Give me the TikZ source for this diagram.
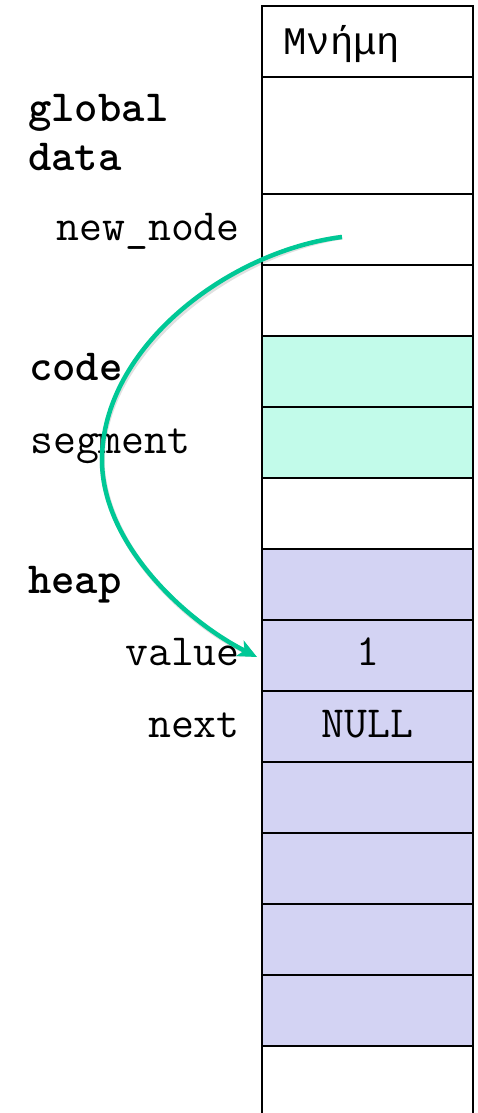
\documentclass[tikz,border=0pt]{standalone}
\usepackage{fontspec}
\newfontfamily\greekmono{Liberation Mono}
\usetikzlibrary{arrows.meta,calc}
\definecolor{mint}{RGB}{194,251,234}
\definecolor{lav}{RGB}{211,211,243}
\definecolor{arrowgreen}{RGB}{0,200,150}
\tikzset{
  cell/.style={draw=black, line width=2pt, minimum width=211pt, inner sep=0pt, outer sep=0pt},
  lbl/.style={inner sep=0pt, font=\ttfamily\fontsize{44.5}{50}\selectfont},
  blbl/.style={inner sep=0pt, font=\ttfamily\bfseries\fontsize{44.5}{50}\selectfont},
  glbl/.style={inner sep=0pt, font=\greekmono\fontsize{39}{45}\selectfont},
  ptr/.style={line width=4.5pt, arrowgreen, -{Stealth[length=19pt,width=17pt,inset=5pt]}},
  ptrshadow/.style={line width=5pt, black, opacity=0.12, -{Stealth[length=19pt,width=17pt,inset=5pt]}}
}
\begin{document}
\begin{tikzpicture}[x=1pt,y=-1pt]
\useasboundingbox (0,0) rectangle (478,1113);
% memory cells
\node[cell, minimum height=71pt] (c0) at (367.5,41.5) {};
\node[cell, minimum height=117pt] (c1) at (367.5,135.5) {};
\node[cell, minimum height=71pt] (c2) at (367.5,229.5) {};
\node[cell, minimum height=71pt] (c3) at (367.5,300.5) {};
\node[cell, fill=mint, minimum height=71pt] (c4) at (367.5,371.5) {};
\node[cell, fill=mint, minimum height=71pt] (c5) at (367.5,442.5) {};
\node[cell, minimum height=71pt] (c6) at (367.5,513.5) {};
\node[cell, fill=lav, minimum height=71pt] (c7) at (367.5,584.5) {};
\node[cell, fill=lav, minimum height=71pt] (c8) at (367.5,655.5) {};
\node[cell, fill=lav, minimum height=71pt] (c9) at (367.5,726.5) {};
\node[cell, fill=lav, minimum height=71pt] (c10) at (367.5,797.5) {};
\node[cell, fill=lav, minimum height=71pt] (c11) at (367.5,868.5) {};
\node[cell, fill=lav, minimum height=71pt] (c12) at (367.5,939.5) {};
\node[cell, fill=lav, minimum height=71pt] (c13) at (367.5,1010.5) {};
\node[cell, minimum height=80pt] (c14) at (367.5,1086) {};
% cell texts
\node[glbl, anchor=base west] (mem) at (283,55) {Μνήμη};
\node[lbl, anchor=base] (one) at (367.5,665) {1};
\node[lbl, anchor=base] (null) at (367.5,737) {NULL};
% side labels
\node[blbl, anchor=base west] (glob) at (28,122) {global};
\node[blbl, anchor=base west] (data) at (28,170) {data};
\node[lbl, anchor=base east] (nn) at (240,240) {new\_node};
\node[blbl, anchor=base west] (code) at (29,380) {code};
\node[lbl, anchor=base west] (seg) at (30,453) {segment};
\node[blbl, anchor=base west] (heap) at (28,593) {heap};
\node[lbl, anchor=base east] (val) at (240,665) {value};
\node[lbl, anchor=base east] (nxt) at (240,737) {next};
% pointer arrow
\coordinate (s) at (342,237);
\coordinate (m) at (102,460);
\coordinate (t) at ($(c8.west)+(-5,1.5)$);
\begin{scope}[shift={(2,3)}]
\draw[ptrshadow] (s) .. controls (229,251) and (102,347) .. (m) .. controls (102,543) and (184,620) .. (t);
\end{scope}
\draw[ptr] (s) .. controls (229,251) and (102,347) .. (m) .. controls (102,543) and (184,620) .. (t);
\end{tikzpicture}
\end{document}
